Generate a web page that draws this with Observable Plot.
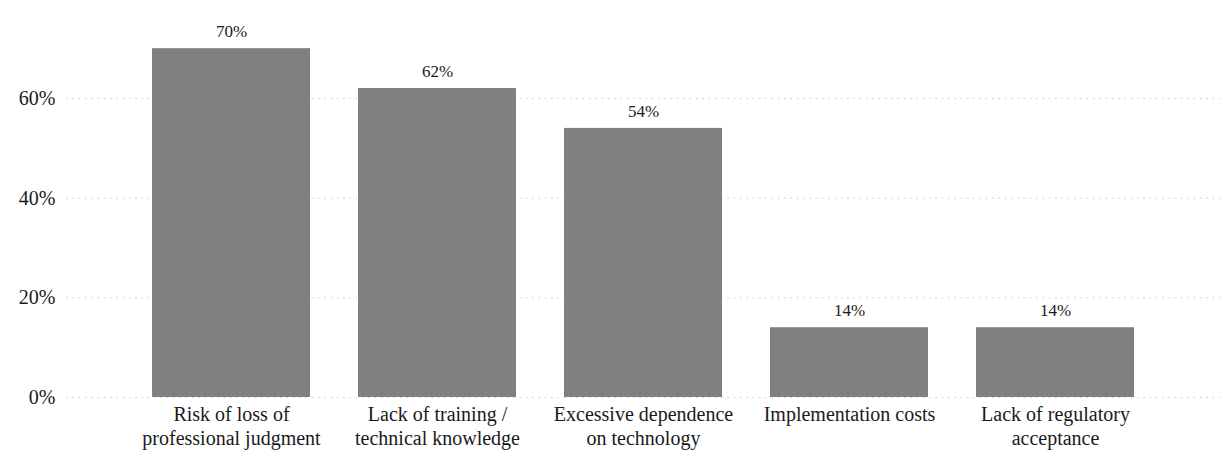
<!DOCTYPE html>
<html>
<head>
<meta charset="utf-8">
<script src="https://cdn.jsdelivr.net/npm/d3@7"></script>
<script src="https://cdn.jsdelivr.net/npm/@observablehq/plot@0.6"></script>
<style>
  html, body { margin: 0; padding: 0; background: #fff; }
  #chart svg { display: block; font-family: "Liberation Serif", "Times New Roman", serif !important; }
  #chart svg text { font-family: "Liberation Serif", "Times New Roman", serif; }
</style>
</head>
<body>
<div id="chart"></div>
<script>
// Perceived barriers to adoption (share of respondents)
const categories = [
  "Risk of loss of\nprofessional judgment",
  "Lack of training /\ntechnical knowledge",
  "Excessive dependence\non technology",
  "Implementation costs",
  "Lack of regulatory\nacceptance"
];
const shares = [0.70, 0.62, 0.54, 0.14, 0.14];
const yTicks = [0, 0.2, 0.4, 0.6];

const rows = categories.map((c, i) => ({category: c, share: shares[i]}));
const pct = d3.format(".0%");

const chart = Plot.plot({
  width: 1223,
  height: 461,
  marginLeft: 66,
  marginRight: 3,
  marginTop: 10,
  marginBottom: 64,
  style: {fontFamily: "Liberation Serif, serif", color: "#1a1a1a", background: "#fff"},
  x: {domain: categories, paddingInner: 0.232, paddingOuter: 0.41, label: null},
  y: {domain: [0, 0.7766], label: null},
  marks: [
    Plot.gridY(yTicks, {stroke: "#c8c8c8", strokeOpacity: 1, strokeDasharray: "1.5,4.8", strokeWidth: 1}),
    Plot.barY(rows, {x: "category", y: "share", fill: "#808080"}),
    Plot.text(rows, {x: "category", y: "share", text: d => pct(d.share), dy: -17, fontSize: 17, fill: "#1a1a1a"}),
    Plot.axisY(yTicks, {tickSize: 0, tickPadding: 11, tickFormat: pct, fontSize: 20, label: null, fill: "#1a1a1a"}),
    Plot.axisX({tickSize: 0, tickPadding: 6, fontSize: 20, lineHeight: 1.2, label: null, fill: "#1a1a1a"})
  ]
});
document.getElementById("chart").appendChild(chart);
</script>
</body>
</html>
